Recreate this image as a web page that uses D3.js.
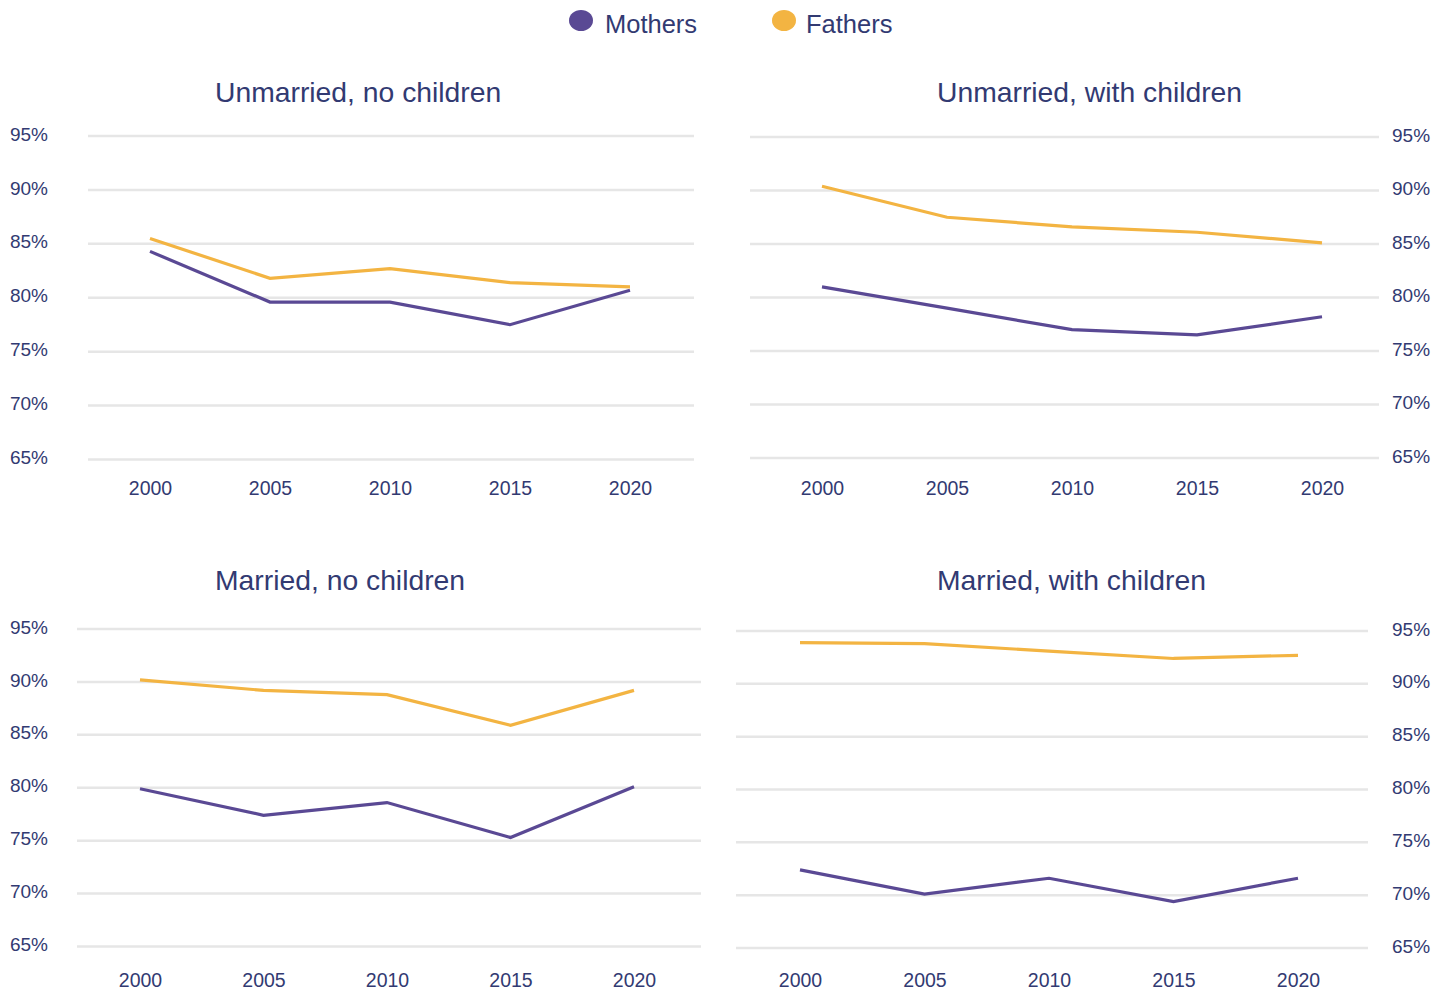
<!DOCTYPE html>
<html>
<head>
<meta charset="utf-8">
<script src="https://cdn.jsdelivr.net/npm/d3@7"></script>
<style>
  html, body { margin: 0; padding: 0; background: #ffffff; }
  svg { display: block; font-family: "Liberation Sans", Arial, sans-serif; }
</style>
</head>
<body>
<svg id="chart" width="1450" height="993"></svg>
<script>
// ---- Data ----
const years = [2000, 2005, 2010, 2015, 2020];
const yTicks = [65, 70, 75, 80, 85, 90, 95];
const seriesNames = ["Mothers", "Fathers"];
const panelTitles = ["Unmarried, no children", "Unmarried, with children", "Married, no children", "Married, with children"];

const mothersUnmarriedNoChildren   = [84.3, 79.6, 79.6, 77.5, 80.7];
const fathersUnmarriedNoChildren   = [85.5, 81.8, 82.7, 81.4, 81.0];
const mothersUnmarriedWithChildren = [81.0, 79.0, 77.0, 76.5, 78.2];
const fathersUnmarriedWithChildren = [90.4, 87.5, 86.6, 86.1, 85.1];
const mothersMarriedNoChildren     = [79.9, 77.4, 78.6, 75.3, 80.1];
const fathersMarriedNoChildren     = [90.2, 89.2, 88.8, 85.9, 89.2];
const mothersMarriedWithChildren   = [72.4, 70.1, 71.6, 69.4, 71.6];
const fathersMarriedWithChildren   = [93.9, 93.8, 93.1, 92.4, 92.7];

const panelMothers = [mothersUnmarriedNoChildren, mothersUnmarriedWithChildren, mothersMarriedNoChildren, mothersMarriedWithChildren];
const panelFathers = [fathersUnmarriedNoChildren, fathersUnmarriedWithChildren, fathersMarriedNoChildren, fathersMarriedWithChildren];

// ---- Layout / style ----
const colors = { Mothers: "#5a4994", Fathers: "#f3b442" };
const textColor = "#323a72";
const gridColor = "#e6e6e6";

const layouts = [
  { gx0: 88,  gx1: 694,  y95: 136, y65: 459.5, px0: 150, px1: 630,  side: "left",  titleX: 215, titleY: 102, xLabelY: 488 },
  { gx0: 750, gx1: 1379, y95: 137, y65: 458,   px0: 822, px1: 1322, side: "right", titleX: 937, titleY: 102, xLabelY: 488 },
  { gx0: 77,  gx1: 701,  y95: 629, y65: 946.5, px0: 140, px1: 634,  side: "left",  titleX: 215, titleY: 590, xLabelY: 980 },
  { gx0: 736, gx1: 1368, y95: 631, y65: 948,   px0: 800, px1: 1298, side: "right", titleX: 937, titleY: 590, xLabelY: 980 }
];

const svg = d3.select("#chart");

// ---- Legend ----
const legendItems = [
  { name: seriesNames[0], cx: 581, tx: 605 },
  { name: seriesNames[1], cx: 784, tx: 806 }
];
const legend = svg.append("g").attr("class", "legend");
legendItems.forEach(it => {
  legend.append("ellipse")
    .attr("cx", it.cx).attr("cy", 20.5)
    .attr("rx", 12).attr("ry", 10.5)
    .attr("fill", colors[it.name]);
  legend.append("text")
    .attr("x", it.tx).attr("y", 33)
    .attr("font-size", 25.5)
    .attr("fill", textColor)
    .text(it.name);
});

// ---- Panels ----
layouts.forEach((L, i) => {
  const g = svg.append("g").attr("class", "panel");

  const x = d3.scaleLinear().domain([2000, 2020]).range([L.px0, L.px1]);
  const y = d3.scaleLinear().domain([65, 95]).range([L.y65, L.y95]);

  // title
  g.append("text")
    .attr("x", L.titleX).attr("y", L.titleY)
    .attr("font-size", 28.3)
    .attr("fill", textColor)
    .text(panelTitles[i]);

  // gridlines + y labels via axis
  const yAxis = (L.side === "left" ? d3.axisLeft(y) : d3.axisRight(y))
    .tickValues(yTicks)
    .tickFormat(d => d + "%")
    .tickSize(0);

  const gridG = g.append("g");
  gridG.selectAll("line")
    .data(yTicks)
    .join("line")
    .attr("x1", L.gx0).attr("x2", L.gx1)
    .attr("y1", d => y(d)).attr("y2", d => y(d))
    .attr("stroke", gridColor)
    .attr("stroke-width", 2.5);

  const axG = g.append("g")
    .attr("transform", `translate(${L.side === "left" ? 48 : 1392},0)`)
    .call(yAxis);
  axG.select(".domain").remove();
  axG.selectAll("text")
    .attr("x", 0)
    .attr("dy", "0.32em")
    .attr("transform", "translate(0,-2)")
    .attr("font-size", 19)
    .attr("font-family", "Liberation Sans, Arial, sans-serif")
    .attr("fill", textColor)
    .attr("text-anchor", L.side === "left" ? "end" : "start");

  // x axis labels
  const xAxis = d3.axisBottom(x)
    .tickValues(years)
    .tickFormat(d3.format("d"))
    .tickSize(0);
  const xG = g.append("g")
    .attr("transform", `translate(0,${L.xLabelY})`)
    .call(xAxis);
  xG.select(".domain").remove();
  xG.selectAll("text")
    .attr("y", 0)
    .attr("dy", "0.35em")
    .attr("font-size", 19.5)
    .attr("font-family", "Liberation Sans, Arial, sans-serif")
    .attr("fill", textColor);

  // lines
  const line = d3.line()
    .x((d, k) => x(years[k]))
    .y(d => y(d));

  [["Mothers", panelMothers[i]], ["Fathers", panelFathers[i]]].forEach(([name, vals]) => {
    g.append("path")
      .datum(vals)
      .attr("d", line)
      .attr("fill", "none")
      .attr("stroke", colors[name])
      .attr("stroke-width", 3.2)
      .attr("stroke-linejoin", "miter");
  });
});
</script>
</body>
</html>
